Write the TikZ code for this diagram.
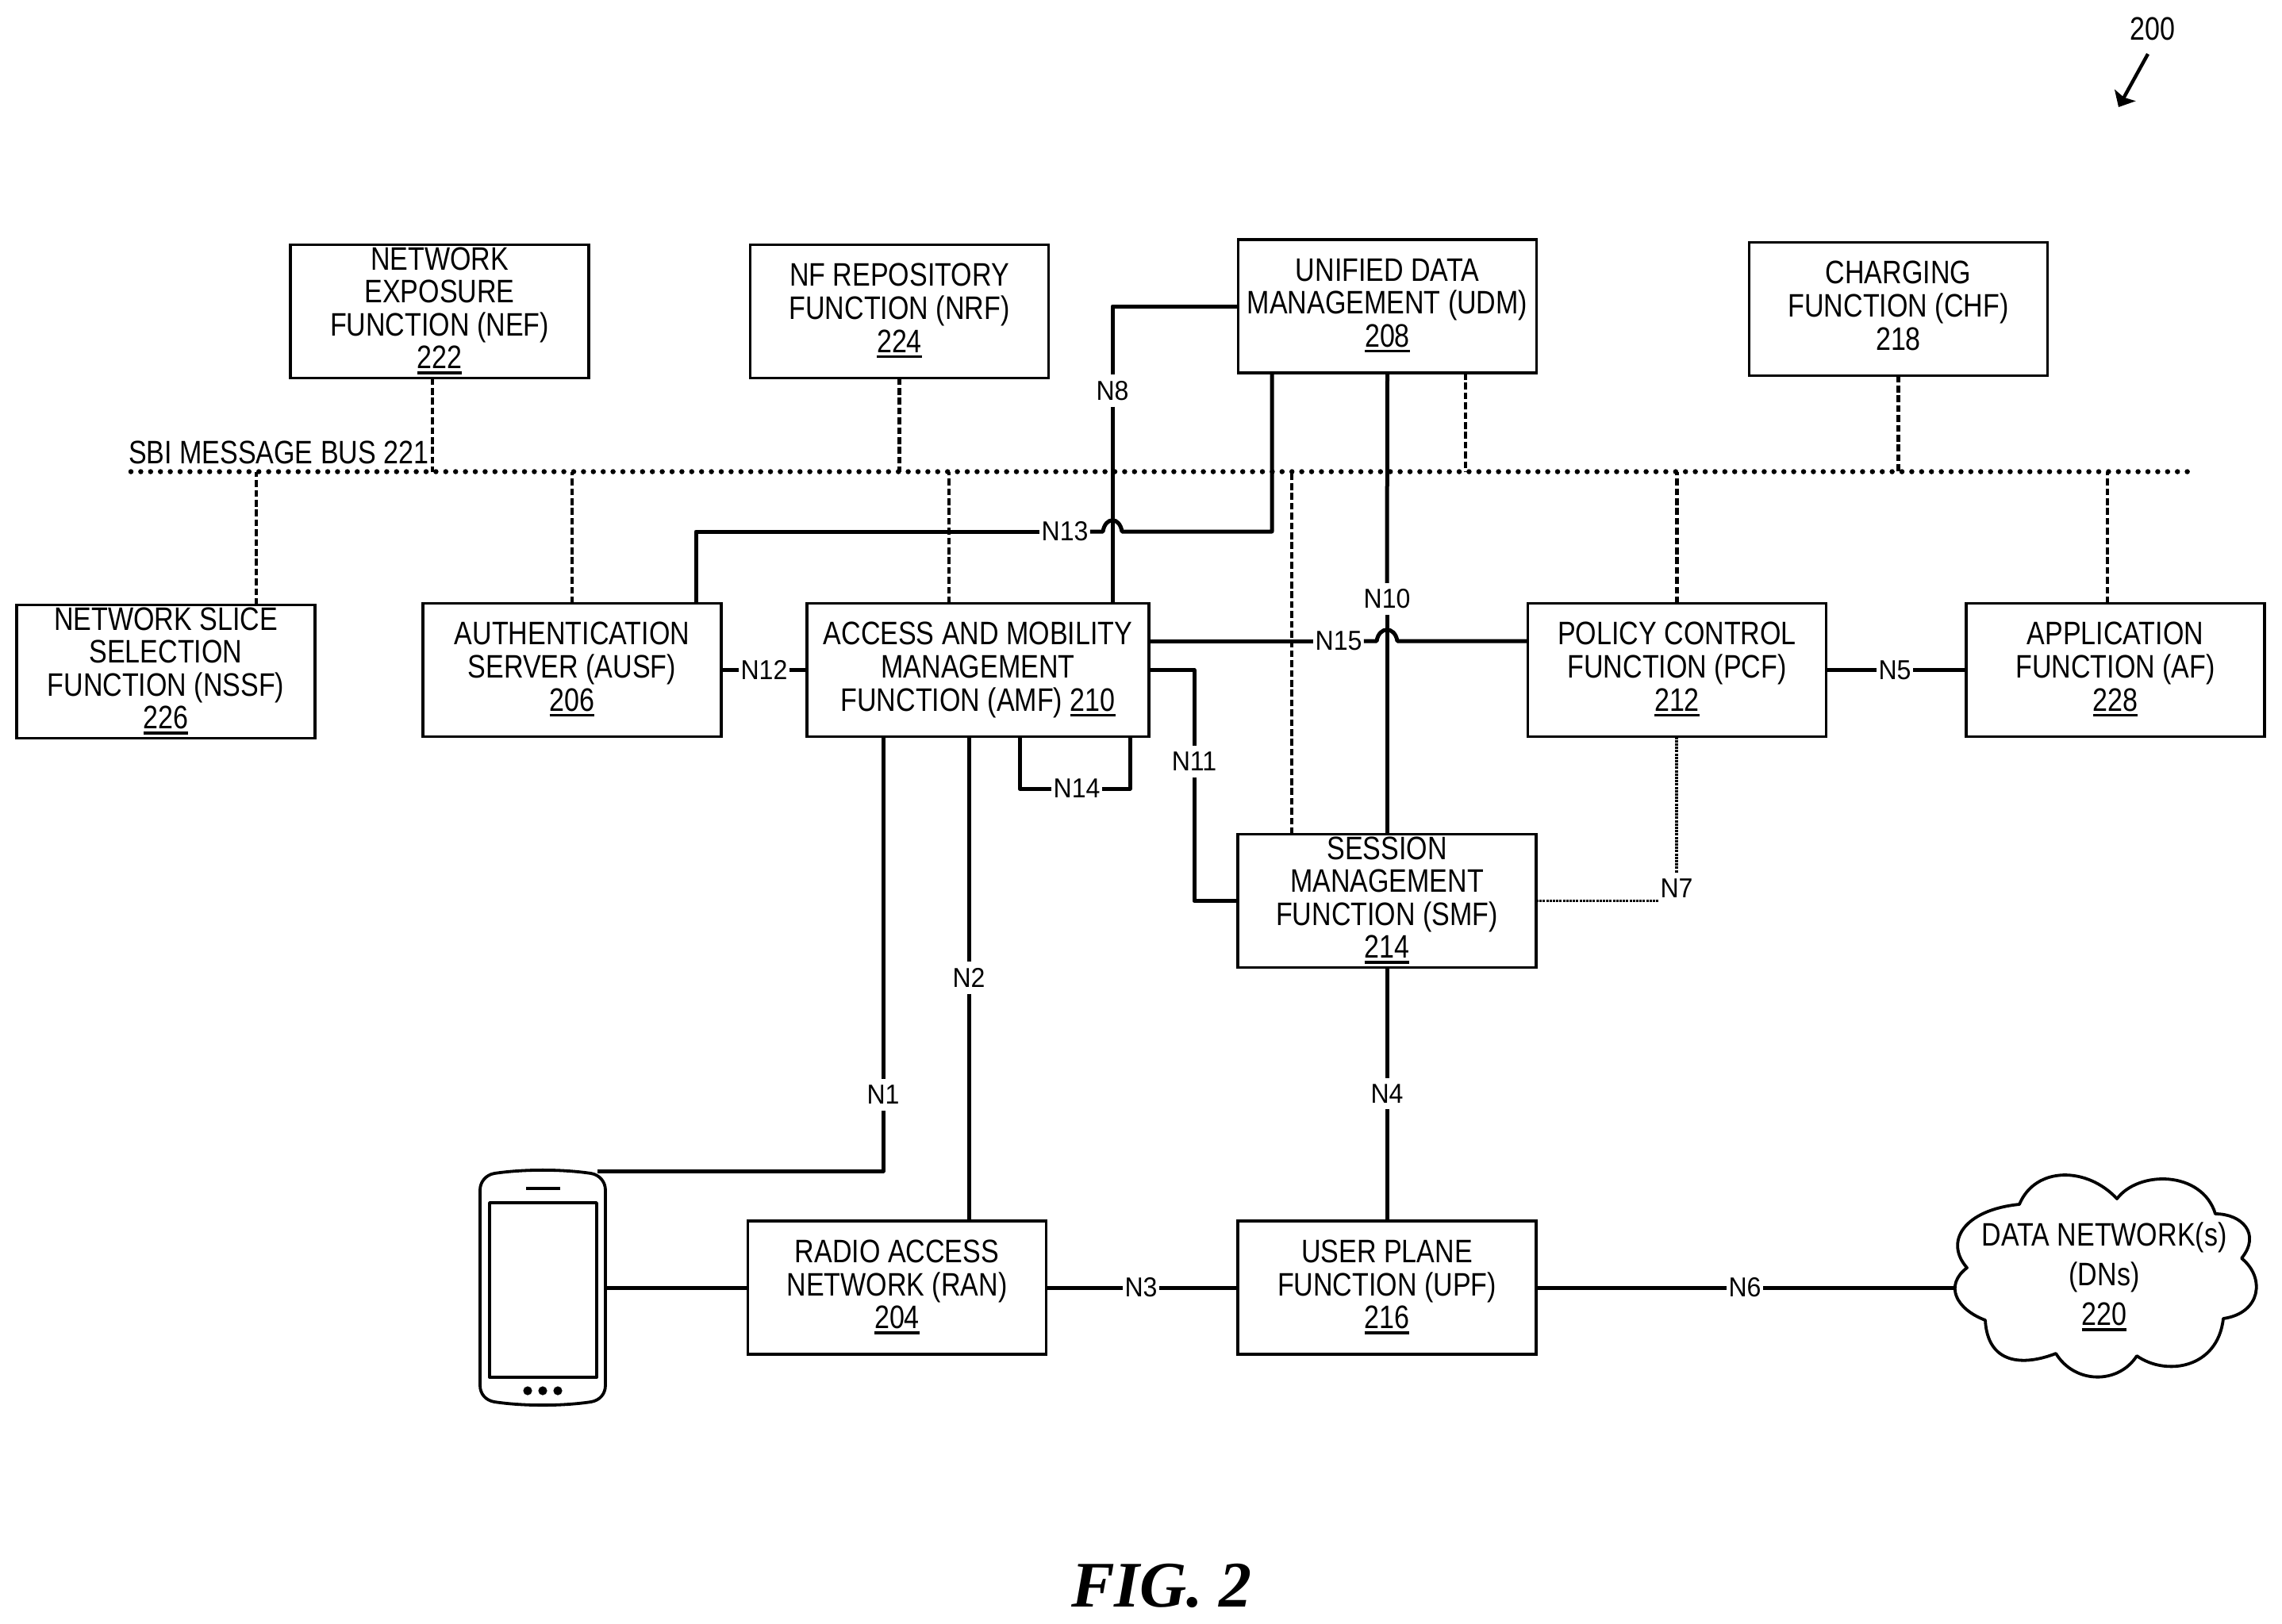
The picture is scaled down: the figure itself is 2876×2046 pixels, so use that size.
\documentclass[tikz,border=0pt]{standalone}
\usepackage{fontspec}
\setmainfont[FakeStretch=0.83]{Liberation Sans}
\newfontfamily\linkfont[FakeStretch=0.93]{Liberation Sans}
\newfontfamily\figfont{Liberation Serif}
\usetikzlibrary{arrows.meta}
\newsavebox\refbox
\newcommand{\refnum}[1]{\sbox\refbox{#1}\rlap{\rule[-7pt]{\wd\refbox}{3.6pt}}\rule[-8.6pt]{0pt}{8.6pt}\usebox\refbox}
\newcommand{\plainnum}[1]{\rule[-8.6pt]{0pt}{8.6pt}#1}
\tikzset{
  nfbox/.style={draw=drawColor,line width=3.8pt,text=drawColor,align=center,inner sep=0pt,outer sep=0pt,
    minimum width=376pt,minimum height=168pt,font=\fontsize{41}{41.6}\selectfont},
  linklabel/.style={text=drawColor,inner xsep=2.5pt,inner ysep=8pt,outer sep=0pt,font=\linkfont\fontsize{34.5}{36}\selectfont},
  plaintext/.style={text=drawColor,inner sep=0pt,outer sep=0pt,font=\fontsize{41}{41.6}\selectfont},
  link/.style={draw=drawColor,line width=5pt,line join=round},
  thinlink/.style={draw=drawColor,line width=3.4pt,dash pattern=on 3pt off 1.2pt},
  busline/.style={draw=drawColor,line width=6.5pt,line cap=round,dash pattern=on 0pt off 12.4pt},
  busdrop/.style={draw=drawColor,line width=4.6pt,dash pattern=on 8.6pt off 3.8pt},
  outline/.style={draw=drawColor,line width=3.8pt,line join=round}
}
\begin{document}
\begin{tikzpicture}[x=1pt,y=-1pt]
\definecolor{drawColor}{RGB}{0,0,0}
\path[use as bounding box,fill=white] (0,0) rectangle (2876,2046);

\node[plaintext,anchor=base] (figref) at (2713,50) {200};
\coordinate (figrefFrom) at (2707,68);
\coordinate (figrefTo) at (2670,135);
\draw[draw=drawColor,line width=4.4pt,-{Stealth[length=17pt,width=30pt,inset=3pt]}] (figrefFrom) -- (figrefTo);

\node[nfbox] (nef) at (554,392.5) {NETWORK\\EXPOSURE\\FUNCTION (NEF)\\\refnum{222}};
\node[nfbox] (nrf) at (1133.5,392.5) {NF REPOSITORY\\FUNCTION (NRF)\\\refnum{224}};
\node[nfbox] (udm) at (1748.5,386) {UNIFIED DATA\\MANAGEMENT (UDM)\\\refnum{208}};
\node[nfbox] (chf) at (2392.5,389.5) {CHARGING\\FUNCTION (CHF)\\\plainnum{218}};
\node[nfbox] (nssf) at (209,846.5) {NETWORK SLICE\\SELECTION\\FUNCTION (NSSF)\\\refnum{226}};
\node[nfbox] (ausf) at (721,844.5) {AUTHENTICATION\\SERVER (AUSF)\\\refnum{206}};
\node[nfbox,minimum width=431pt] (amf) at (1232.5,844.5) {ACCESS AND MOBILITY\\MANAGEMENT\\FUNCTION (AMF) \refnum{210}};
\node[nfbox] (pcf) at (2113.5,844.5) {POLICY CONTROL\\FUNCTION (PCF)\\\refnum{212}};
\node[nfbox] (af) at (2666,844.5) {APPLICATION\\FUNCTION (AF)\\\refnum{228}};
\node[nfbox] (smf) at (1748,1135.5) {SESSION\\MANAGEMENT\\FUNCTION (SMF)\\\refnum{214}};
\node[nfbox] (ran) at (1130.5,1623) {RADIO ACCESS\\NETWORK (RAN)\\\refnum{204}};
\node[nfbox] (upf) at (1748,1623) {USER PLANE\\FUNCTION (UPF)\\\refnum{216}};

\node[plaintext,anchor=base west] (busname) at (162,584) {SBI MESSAGE BUS 221};
\coordinate (busL) at (165,594.5);
\coordinate (busR) at (2763,594.5);
\draw[busline] (busL) -- (busR);

\foreach \nf/\dx in {nef/-9,nrf/0,udm/98.5,chf/0}
  \draw[busdrop] ([xshift=\dx pt]\nf.south) -- ([xshift=\dx pt]\nf.south |- busL);

\foreach \nf/\dx in {nssf/114,ausf/0,amf/-36.5,smf/-120,pcf/0,af/-10}
  \draw[busdrop] ([xshift=\dx pt]\nf.north) -- ([xshift=\dx pt]\nf.north |- busL);

\node[linklabel] (n1) at (1113,1380) {N1};
\node[linklabel] (n2) at (1221,1232.5) {N2};
\node[linklabel] (n3) at (1438,1623) {N3};
\node[linklabel] (n4) at (1748,1378.5) {N4};
\node[linklabel] (n5) at (2388,844.5) {N5};
\node[linklabel] (n6) at (2199,1623) {N6};
\node[linklabel] (n7) at (2113,1120) {N7};
\node[linklabel] (n8) at (1402,492.5) {N8};
\node[linklabel] (n10) at (1748,755) {N10};
\node[linklabel] (n11) at (1505,960) {N11};
\node[linklabel] (n12) at (963,844.5) {N12};
\node[linklabel] (n13) at (1342,670) {N13};
\node[linklabel] (n14) at (1357,994) {N14};
\node[linklabel] (n15) at (1687,808) {N15};

\draw[link] (udm.west) -| (n8.north);
\draw[link] (n8.south) -- (n8 |- amf.north);

\draw[link] ([xshift=-145.5pt]udm.south) |- ([xshift=12pt]n8 |- n13)
  .. controls ([xshift=9pt,yshift=19pt]n8 |- n13) and ([xshift=-9pt,yshift=19pt]n8 |- n13) .. ([xshift=-12pt]n8 |- n13) -- (n13.east);
\draw[link] (n13.west) -| ([xshift=156pt]ausf.north);

\draw[link] (udm.south) -- (n10.north);
\draw[link] (n10.south) -- (n10 |- smf.north);

\draw[link] ([yshift=36.5pt]amf.east) -- (n15.west);
\draw[link] (n15.east) -- ([xshift=-13pt]n10 |- n15)
  .. controls ([xshift=-10pt,yshift=19pt]n10 |- n15) and ([xshift=10pt,yshift=19pt]n10 |- n15) .. ([xshift=13pt]n10 |- n15) -- ([yshift=36.5pt]pcf.west);

\draw[link] (amf.east) -| (n11.north);
\draw[link] (n11.south) |- (smf.west);

\draw[link] (ausf.east) -- (n12.west);
\draw[link] (n12.east) -- (amf.west);

\draw[link] ([xshift=52.5pt]amf.south) |- (n14.west);
\draw[link] ([xshift=191.5pt]amf.south) |- (n14.east);

\coordinate (ueTop) at (753,1476);
\draw[link] (n1 |- amf.south) -- (n1.north);
\draw[link] (n1.south) |- (ueTop);

\draw[link] (n2 |- amf.south) -- (n2.north);
\draw[link] (n2.south) -- (n2 |- ran.north);

\draw[link] (ran.east) -- (n3.west);
\draw[link] (n3.east) -- (upf.west);

\draw[link] (smf.south) -- (n4.north);
\draw[link] (n4.south) -- (upf.north);

\draw[link] (pcf.east) -- (n5.west);
\draw[link] (n5.east) -- (af.west);

\draw[thinlink] (smf.east) -- (n7.west |- smf.east);
\draw[thinlink] (n7 |- pcf.south) -- (n7.north);

\node[inner sep=0pt,outer sep=0pt,minimum width=160pt,minimum height=296pt] (phone) at (684,1623) {};
\draw[outline] (623,1479) .. controls (660,1473.5) and (708,1473.5) .. (745,1479) .. controls (756,1481) and (763,1490) .. (763,1500)
  -- (763,1746) .. controls (763,1757) and (756,1765) .. (745,1767) .. controls (708,1772.5) and (660,1772.5) .. (623,1767)
  .. controls (612,1765) and (605,1757) .. (605,1746) -- (605,1500) .. controls (605,1490) and (612,1481) .. (623,1479) -- cycle;
\draw[outline] (663,1498) -- (706,1498);
\draw[outline] (617,1516) rectangle (752,1736);
\foreach \dotx in {665,684,703}
  \fill[drawColor] (\dotx,1753) circle (5.6);
\draw[link] (phone.east) -- (ran.west);

\node[plaintext,align=center,font=\fontsize{41}{50}\selectfont] (dn) at (2652,1610) {DATA NETWORK(s)\\(DNs)\\\refnum{220}};
\draw[outline] (2479,1598) .. controls (2450,1565) and (2475,1525) .. (2545,1518)
  .. controls (2565,1470) and (2630,1470) .. (2668,1511)
  .. controls (2695,1475) and (2775,1475) .. (2792,1530)
  .. controls (2825,1530) and (2850,1555) .. (2825,1586)
  .. controls (2855,1610) and (2850,1655) .. (2802,1662)
  .. controls (2795,1725) and (2730,1735) .. (2693,1709)
  .. controls (2670,1745) and (2615,1745) .. (2591,1706)
  .. controls (2550,1722) and (2505,1720) .. (2502,1664)
  .. controls (2465,1650) and (2450,1620) .. (2479,1598) -- cycle;
\coordinate (dnEdge) at (2463,1623);
\draw[link] (upf.east) -- (n6.west);
\draw[link] (n6.east) -- (dnEdge);

\node[text=drawColor,anchor=base,inner sep=0pt,outer sep=0pt,font=\figfont\bfseries\itshape\fontsize{82}{84}\selectfont] (figname) at (1464,2025) {FIG. 2};
\end{tikzpicture}
\end{document}
